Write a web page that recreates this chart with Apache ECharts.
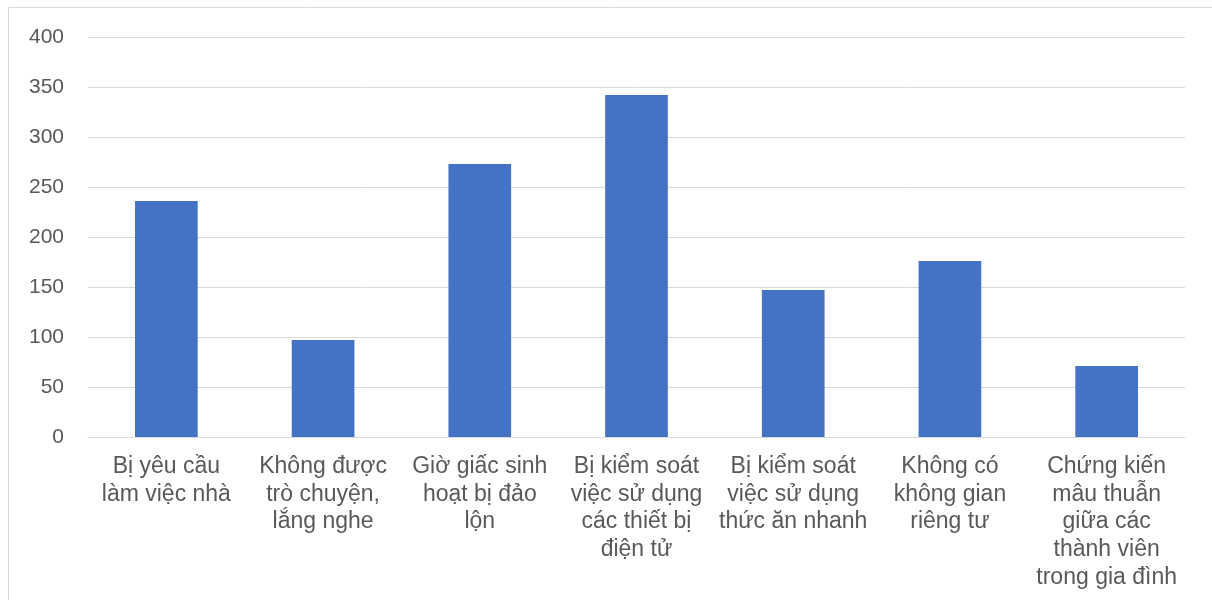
<!DOCTYPE html>
<html>
<head>
<meta charset="utf-8">
<script src="https://cdn.jsdelivr.net/npm/echarts@6/dist/echarts.min.js"></script>
<style>
  html, body { margin: 0; padding: 0; background: #fff; }
  #chart { width: 1212px; height: 600px; }
</style>
</head>
<body>
<div id="chart"></div>
<script>
// Categories (line-broken as displayed under each bar)
const categories = [
  'Bị yêu cầu\nlàm việc nhà',
  'Không được\ntrò chuyện,\nlắng nghe',
  'Giờ giấc sinh\nhoạt bị đảo\nlộn',
  'Bị kiểm soát\nviệc sử dụng\ncác thiết bị\nđiện tử',
  'Bị kiểm soát\nviệc sử dụng\nthức ăn nhanh',
  'Không có\nkhông gian\nriêng tư',
  'Chứng kiến\nmâu thuẫn\ngiữa các\nthành viên\ntrong gia đình'
];
const values = [236, 97, 273, 342, 147, 176, 71];
const yMin = 0, yMax = 400, yStep = 50;

const chart = echarts.init(document.getElementById('chart'));
chart.setOption({
  animation: false,
  backgroundColor: '#ffffff',
  textStyle: { fontFamily: '"Liberation Sans", Arial, sans-serif' },
  graphic: [{
    type: 'rect',
    shape: { x: 8.5, y: 7.5, width: 1220, height: 620 },
    style: { fill: 'none', stroke: '#d9d9d9', lineWidth: 1 },
    silent: true
  }],
  grid: { left: 88, right: 27, top: 37, bottom: 163, containLabel: false },
  xAxis: {
    type: 'category',
    data: categories,
    axisTick: { show: false },
    axisLine: { lineStyle: { color: '#d9d9d9', width: 1 } },
    axisLabel: {
      interval: 0,
      color: '#595959',
      fontSize: 23,
      lineHeight: 27.6,
      margin: 16,
      fontFamily: '"Liberation Sans", Arial, sans-serif'
    }
  },
  yAxis: {
    type: 'value',
    min: yMin, max: yMax, interval: yStep,
    axisLine: { show: false },
    axisTick: { show: false },
    splitLine: { lineStyle: { color: '#d9d9d9', width: 1 } },
    axisLabel: {
      color: '#595959',
      fontSize: 21,
      margin: 24,
      fontFamily: '"Liberation Sans", Arial, sans-serif'
    }
  },
  series: [{
    type: 'bar',
    data: values,
    barWidth: '40%',
    itemStyle: { color: '#4472c4' }
  }]
});
</script>
</body>
</html>
